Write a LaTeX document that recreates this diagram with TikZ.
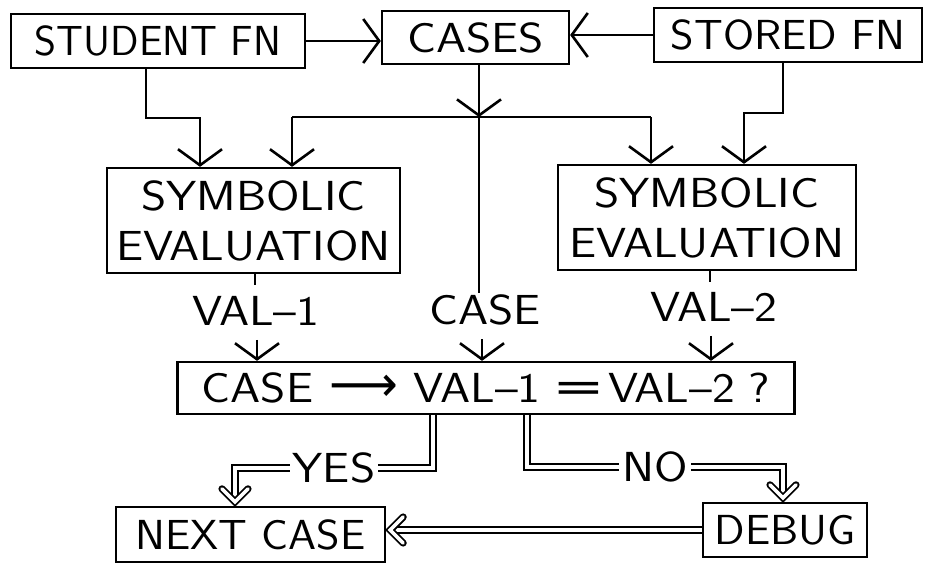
\documentclass[tikz,border=0pt]{standalone}
\usepackage{fontspec}
\usepackage{graphicx}
\newfontfamily\lettA{lmsans17-regular.otf}[FakeStretch=1.15]
\newfontfamily\lettB{lmsans17-regular.otf}
\newfontfamily\lettC{lmsans17-regular.otf}[FakeStretch=1.07]
\newfontfamily\djv{DejaVu Sans}
\usetikzlibrary{arrows.meta}
\begin{document}
\begin{tikzpicture}[x=1pt,y=-1pt,
  txt/.style={font=\lettA\fontsize{42}{50}\selectfont},
  txtc/.style={font=\lettC\fontsize{42}{50}\selectfont},
  box/.style={draw, line width=2.3pt, rectangle, inner sep=0pt, txt, align=center},
  lbl/.style={txt, inner sep=2pt},
  plainline/.style={line width=2pt},
  conn/.style={line width=2pt, -{Straight Barb[length=16pt,width=44pt,line width=2.6pt]}},
  dbl/.style={double, line width=1.8pt, double distance=3.6pt, line join=miter},
  dhead/.style={double, line width=1.8pt, double distance=3.6pt, line join=miter, line cap=round}]
\useasboundingbox (0,0) rectangle (932,571);
\fill[white] (0,0) rectangle (932,571);
% boxes
\node[box, minimum width=294pt, minimum height=54pt, font=\lettB\fontsize{42}{50}\selectfont] (sfn) at (158,41) {STUDENT FN};
\node[box, minimum width=187pt, minimum height=53pt] (cases) at (475.5,37.5) {CASES};
\node[box, minimum width=268pt, minimum height=54pt, txtc] (stfn) at (788,35) {STORED FN};
\node[box, minimum width=293pt, minimum height=105pt] (sym1) at (253.5,220.5) {SYMBOLIC\\EVALUATION};
\node[box, minimum width=298pt, minimum height=105pt] (sym2) at (707,217.5) {SYMBOLIC\\EVALUATION};
\node[box, minimum width=617pt, minimum height=52pt] (test) at (486,388) {CASE\hspace{16pt}\raisebox{1pt}{\scalebox{1.2}[1.25]{\djv\fontsize{40}{40}\selectfont ⟶}}\hspace{16pt}VAL\textendash 1\hspace{12pt}\raisebox{1pt}{\scalebox{1.5}[1]{\djv =}}\hspace{3pt}VAL\textendash 2\hspace{14pt}?};
\node[box, minimum width=269pt, minimum height=55pt, txtc] (next) at (250.5,534.5) {NEXT CASE};
\node[box, minimum width=164pt, minimum height=54pt, txtc] (debug) at (785,530) {DEBUG};
% labels
\node[lbl] (val1) at (256,311) {VAL\textendash 1};
\node[lbl] (caselbl) at (485,310) {CASE};
\node[lbl] (val2) at (714,307) {VAL\textendash 2};
% coordinates
\coordinate (j) at (479,117);
\coordinate (jl) at (292,117);
\coordinate (jr) at (651,117);
\coordinate (s1) at (146,118);
\coordinate (s2) at (200,118);
\coordinate (t1) at (783,113);
\coordinate (t2) at (744,113);
% top connectors
\draw[conn] (sfn.east) -- (sfn.east -| cases.west);
\draw[conn] (stfn.west) -- (stfn.west -| cases.east);
\draw[conn] (cases.south -| j) -- (j);
\draw[plainline] (j) -- (j |- caselbl.north);
\draw[plainline] (jl) -- (jr);
\draw[conn] (jl) -- (jl |- sym1.north);
\draw[conn] (jr) -- (jr |- sym2.north);
\draw[conn] (sfn.south -| s1) -- (s1) -- (s2) -- (s2 |- sym1.north);
\draw[conn] (stfn.south -| t1) -- (t1) -- (t2) -- (t2 |- sym2.north);
% value connectors
\draw[plainline] (sym1.south -| 255,0) -- ++(0,11);
\draw[plainline] (sym2.south -| 710,0) -- ++(0,11);
\draw[conn, shorten <=12pt] (val1.south -| 257,0) -- (test.north -| 257,0);
\draw[conn, shorten <=12pt] (caselbl.south -| 482,0) -- (test.north -| 482,0);
\draw[conn, shorten <=12pt] (val2.south -| 711,0) -- (test.north -| 711,0);
% double connectors
\coordinate (y1) at (433,468);
\coordinate (y2) at (235,468);
\coordinate (n1) at (527,467);
\coordinate (n2) at (783,467);
\draw[dbl, shorten >=6pt] (test.south -| y1) -- (y1) -- node[lbl, fill=white, inner sep=3pt] (yes) {YES} (y2) -- (y2 |- next.north);
\draw[dhead] (y2 |- next.north) ++(-13,-17) -- ++(13,13) -- ++(13,-13);
\draw[dbl, shorten >=6pt] (test.south -| n1) -- (n1) -- node[lbl, fill=white, inner sep=3pt] (no) {NO} (n2) -- (n2 |- debug.north);
\draw[dhead] (n2 |- debug.north) ++(-13,-17) -- ++(13,13) -- ++(13,-13);
\draw[dbl, shorten >=6pt] (debug.west) -- (debug.west -| next.east);
\draw[dhead] (debug.west -| next.east) ++(17,-13) -- ++(-13,13) -- ++(13,13);
\end{tikzpicture}
\end{document}
